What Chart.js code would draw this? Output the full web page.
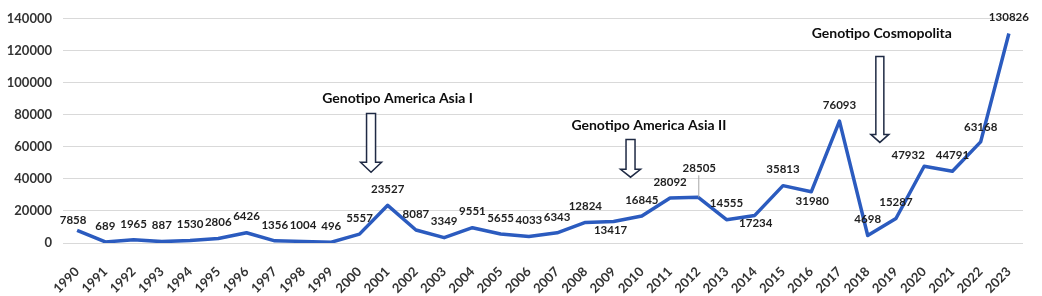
<!DOCTYPE html>
<html>
<head>
<meta charset="utf-8">
<script src="https://cdn.jsdelivr.net/npm/chart.js@4/dist/chart.umd.min.js"></script>
<style>
	html, body { margin: 0; padding: 0; background: #fff; }
	#wrap { width: 1042px; height: 296px; position: relative; }
</style>
</head>
<body>
<div id="wrap"><canvas id="chart-dengue"></canvas></div>
<script>
// Data
const YEARS = ["1990", "1991", "1992", "1993", "1994", "1995", "1996", "1997", "1998", "1999", "2000", "2001", "2002", "2003", "2004", "2005", "2006", "2007", "2008", "2009", "2010", "2011", "2012", "2013", "2014", "2015", "2016", "2017", "2018", "2019", "2020", "2021", "2022", "2023"];
const CASES = [7858, 689, 1965, 887, 1530, 2806, 6426, 1356, 1004, 496, 5557, 23527, 8087, 3349, 9551, 5655, 4033, 6343, 12824, 13417, 16845, 28092, 28505, 14555, 17234, 35813, 31980, 76093, 4698, 15287, 47932, 44791, 63168, 130826];
const Y_TICKS = [0, 20000, 40000, 60000, 80000, 100000, 120000, 140000];
const GENOTYPES = ["Genotipo America Asia I", "Genotipo America Asia II", "Genotipo Cosmopolita"];

// Label placement (px offsets from the point), default is above
const LABEL_SHIFT = {
	"1990": [-4, -10],
	"2009": [-3, 9],
	"2012": [1, -29],
	"2014": [1, 8],
	"2016": [1, 10],
	"2020": [-16, -11],
	"2022": [0, -15],
};

// Annotation layout: text anchor (index, value), arrow (index, top, head start, tip, shaft w, head w)
const NOTE_TEXT = [[11.35, 90200], [20.25, 73400], [28.5, 130700]];
const NOTE_ARROW = [
	[10.41, 80900, 50400, 44200, 9, 21],
	[19.6, 64700, 46000, 41100, 9, 20],
	[28.43, 116400, 67800, 62800, 8, 18],
];

const FONT = "Lato, 'Open Sans', sans-serif";
const TEXT_COLOR = "#1f1f1f";
const TICK_COLOR = "#333333";

const labelsPlugin = {
	id: "valueLabels",
	afterDatasetsDraw(chart) {
		const { ctx } = chart;
		const meta = chart.getDatasetMeta(0);
		ctx.save();
		ctx.font = "bold 11.5px " + FONT;
		ctx.fillStyle = TEXT_COLOR;
		ctx.textAlign = "center";
		ctx.textBaseline = "middle";
		meta.data.forEach((pt, i) => {
			const shift = LABEL_SHIFT[YEARS[i]] || [0, -16];
			const x = pt.x + shift[0];
			const y = pt.y + shift[1];
			if (YEARS[i] === "2012") {
				ctx.strokeStyle = "#a6a6a6";
				ctx.lineWidth = 1;
				ctx.beginPath();
				ctx.moveTo(pt.x + 0.5, y + 7);
				ctx.lineTo(pt.x + 0.5, pt.y);
				ctx.stroke();
			}
			ctx.fillText(String(CASES[i]), x, y);
		});
		ctx.restore();
	},
};

const notesPlugin = {
	id: "genotypeNotes",
	afterDatasetsDraw(chart) {
		const { ctx } = chart;
		const xs = chart.scales.x;
		const ys = chart.scales.y;
		ctx.save();
		ctx.font = "bold 14px " + FONT;
		ctx.textAlign = "center";
		ctx.textBaseline = "middle";
		GENOTYPES.forEach((txt, k) => {
			const [ix, v] = NOTE_TEXT[k];
			ctx.fillStyle = "#0d0d0d";
			ctx.fillText(txt, xs.getPixelForValue(ix), ys.getPixelForValue(v));

			const [ax, top, neck, tip, sw, hw] = NOTE_ARROW[k];
			const cx = xs.getPixelForValue(ax);
			const yTop = ys.getPixelForValue(top);
			const yNeck = ys.getPixelForValue(neck);
			const yTip = ys.getPixelForValue(tip);
			ctx.beginPath();
			ctx.moveTo(cx - sw / 2, yTop);
			ctx.lineTo(cx + sw / 2, yTop);
			ctx.lineTo(cx + sw / 2, yNeck);
			ctx.lineTo(cx + hw / 2, yNeck);
			ctx.lineTo(cx, yTip);
			ctx.lineTo(cx - hw / 2, yNeck);
			ctx.lineTo(cx - sw / 2, yNeck);
			ctx.closePath();
			ctx.fillStyle = "#ffffff";
			ctx.fill();
			ctx.strokeStyle = "#1f2a44";
			ctx.lineWidth = 1.5;
			ctx.stroke();
		});
		ctx.restore();
	},
};

const CHART_DATA = {
	labels: YEARS,
	datasets: [
		{
			label: "Casos",
			data: CASES,
			borderColor: "#2b5bbf",
			backgroundColor: "#2b5bbf",
			borderWidth: 3.5,
			tension: 0,
			pointRadius: 0,
			borderJoinStyle: "round",
		},
	],
};

const CHART_CONFIG = {
	type: "line",
	data: CHART_DATA,
	options: {
		responsive: false,
		animation: false,
		devicePixelRatio: 1,
		layout: {
			padding: { top: 18, right: 19, bottom: 0, left: 0 },
		},
		scales: {
			x: {
				offset: true,
				border: { display: false },
				grid: { display: false },
				ticks: {
					color: TICK_COLOR,
					font: { family: FONT, size: 13, weight: "bold" },
					minRotation: 45,
					maxRotation: 45,
					autoSkip: false,
					padding: 13,
				},
				afterFit: (scale) => { scale.height = 53; },
			},
			y: {
				min: 0,
				max: 140000,
				afterBuildTicks: (scale) => { scale.ticks = Y_TICKS.map((v) => ({ value: v })); },
				border: { display: false },
				grid: { color: "#d9d9d9", lineWidth: 1, drawTicks: false },
				ticks: {
					color: TICK_COLOR,
					font: { family: FONT, size: 13, weight: "bold" },
					padding: 11,
					callback: (v) => String(v),
				},
				afterFit: (scale) => { scale.width = 63; },
			},
		},
		plugins: {
			legend: { display: false },
			tooltip: { enabled: false },
		},
	},
	plugins: [labelsPlugin, notesPlugin],
};

const canvas = document.getElementById("chart-dengue");
canvas.width = 1042;
canvas.height = 296;
new Chart(canvas, CHART_CONFIG);
</script>
</body>
</html>
